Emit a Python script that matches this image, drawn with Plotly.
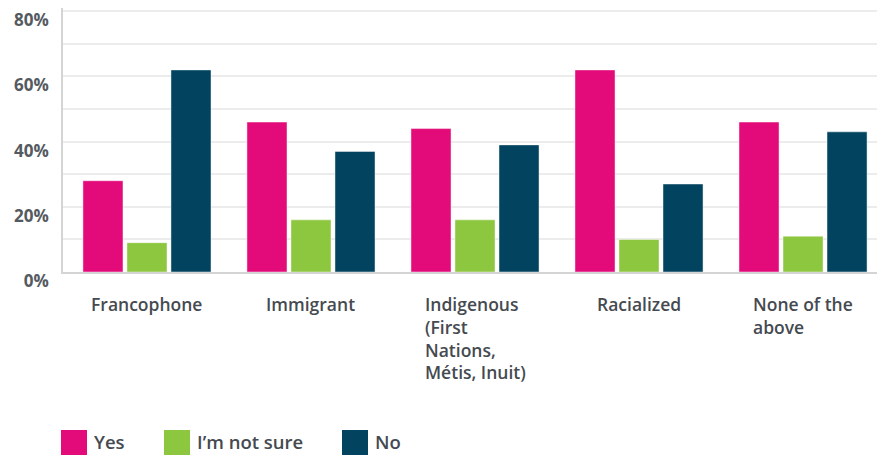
import plotly.graph_objects as go

categories = ["Francophone", "Immigrant", "Indigenous (First Nations, Métis, Inuit)",
              "Racialized", "None of the above"]
category_labels = ["Francophone", "Immigrant", "Indigenous<br>(First<br>Nations,<br>Métis, Inuit)",
                   "Racialized", "None of the<br>above"]
series_names = ["Yes", "I\u2019m not sure", "No"]
yes_vals = [28, 46, 44, 62, 46]
notsure_vals = [9, 16, 16, 10, 11]
no_vals = [62, 37, 39, 27, 43]
series_values = [yes_vals, notsure_vals, no_vals]
colors = ["#e20b79", "#8dc63f", "#02445f"]
tick_vals = [0, 10, 20, 30, 40, 50, 60, 70, 80]
tick_text = ["0%", "", "20%", "", "40%", "", "60%", "", "80%"]

FONT = "Open Sans"
TXT = "#454a50"

W, H = 877, 455
ML, MR, MT, MB = 63, 0, 8, 183
pw, ph = W - ML - MR, H - MT - MB

fig = go.Figure()
for name, vals, col in zip(series_names, series_values, colors):
    fig.add_trace(go.Bar(
        x=list(range(len(categories))), y=vals, name=name,
        marker=dict(color=col, line=dict(color="rgba(255,255,255,0.45)", width=1)),
        showlegend=False, hovertext=categories,
    ))

annotations = []
for i, lab in enumerate(category_labels):
    annotations.append(dict(
        x=i, xref="x", y=0, yref="paper", yanchor="top", xanchor="center",
        yshift=-18, text=lab, showarrow=False, align="left",
        font=dict(family=FONT, size=17.5, color=TXT, weight=600),
    ))

# manual legend (large squares)
shapes = []
legend_x = [61, 164, 342]
for name, col, lx in zip(series_names, colors, legend_x):
    x0 = (lx - ML) / pw
    x1 = (lx + 26 - ML) / pw
    y0 = (MT + ph - 456) / ph
    y1 = (MT + ph - 430) / ph
    shapes.append(dict(type="rect", xref="paper", yref="paper", x0=x0, x1=x1, y0=y0, y1=y1,
                       fillcolor=col, line=dict(width=0), layer="above"))
    annotations.append(dict(
        x=(lx + 32 - ML) / pw, xref="paper", y=(MT + ph - 455) / ph, yref="paper",
        xanchor="left", yanchor="bottom", text=name, showarrow=False, borderpad=0,
        font=dict(family=FONT, size=18.5, color=TXT, weight=600),
    ))

fig.update_layout(
    width=W, height=H,
    margin=dict(l=ML, r=MR, t=MT, b=MB),
    paper_bgcolor="white", plot_bgcolor="white",
    barmode="group", bargap=0.195, bargroupgap=0.09,
    showlegend=False,
    annotations=annotations, shapes=shapes,
    xaxis=dict(range=[-0.512, 4.451], showticklabels=False, showgrid=False, zeroline=False,
               showline=True, linecolor="#d4d4d4", linewidth=2, ticks=""),
    yaxis=dict(range=[0, 81], tickvals=tick_vals, ticktext=tick_text,
               showgrid=True, gridcolor="#ececec", gridwidth=1.5, zeroline=False,
               showline=True, linecolor="#d4d4d4", linewidth=1.5,
               ticklabelshift=9, ticklabelstandoff=9,
               tickfont=dict(family=FONT, size=17, color="#555a60", weight=700)),
)

fig.write_html("out.html")
